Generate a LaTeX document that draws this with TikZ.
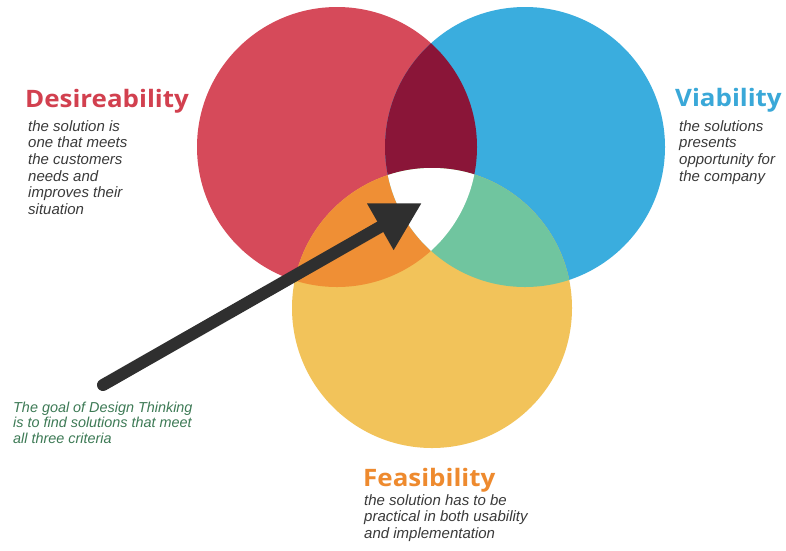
\documentclass[tikz,border=0pt]{standalone}
\usepackage{fontspec}
\setmainfont{Liberation Sans}
\newfontfamily\headfont[FakeStretch=1.08]{Open Sans}
\newfontfamily\descfont{Liberation Sans}
\usetikzlibrary{arrows.meta}
\definecolor{cred}{HTML}{D64A5A}
\definecolor{cblue}{HTML}{3AADDE}
\definecolor{cyellow}{HTML}{F2C35A}
\definecolor{cmaroon}{HTML}{8A1538}
\definecolor{corange}{HTML}{EF8F35}
\definecolor{cgreen}{HTML}{70C59F}
\definecolor{tred}{HTML}{D2404F}
\definecolor{tblue}{HTML}{3AA8D8}
\definecolor{torange}{HTML}{EE8A2E}
\definecolor{tgray}{HTML}{3A3A3A}
\definecolor{tgreen}{HTML}{3D7A55}
\definecolor{carrow}{HTML}{2F2F2F}
\tikzset{
  heading/.style={anchor=base west, inner sep=0pt, font=\headfont\bfseries\fontsize{24}{28}\selectfont},
  desc/.style={anchor=north west, inner sep=0pt, align=left, text=tgray, font=\descfont\itshape\fontsize{15}{16.7}\selectfont},
  goal/.style={anchor=north west, inner sep=0pt, align=left, text=tgreen, font=\descfont\itshape\fontsize{14.4}{15.5}\selectfont},
  pointer/.style={draw=carrow, line width=12pt, line cap=round, -{Triangle[length=48pt,width=50pt]}}
}
\begin{document}
\begin{tikzpicture}[x=1pt,y=-1pt]
\useasboundingbox[fill=white] (0,0) rectangle (786,550);
\def\rA{(337,147) circle[radius=140]}
\def\rB{(525,147) circle[radius=140]}
\def\rC{(432,308) circle[radius=140]}
\fill[cred] \rA;
\fill[cblue] \rB;
\fill[cyellow] \rC;
\begin{scope}\clip \rA; \fill[cmaroon] \rB; \end{scope}
\begin{scope}\clip \rA; \fill[corange] \rC; \end{scope}
\begin{scope}\clip \rB; \fill[cgreen] \rC; \end{scope}
\begin{scope}\clip \rA; \clip \rB; \fill[white] \rC; \end{scope}

\node[heading, text=tred] (desh) at (25,107) {Desireability};
\node[desc] (desd) at (28,120) {the solution is\\one that meets\\the customers\\needs and\\improves their\\situation};

\node[heading, text=tblue] (viah) at (675,106) {Viability};
\node[desc] (viad) at (679,120) {the solutions\\presents\\opportunity for\\the company};

\node[heading, text=torange] (feah) at (363,486) {Feasibility};
\node[desc] (fead) at (364,494) {the solution has to be\\practical in both usability\\and implementation};

\node[goal] (goal) at (13,401.5) {The goal of Design Thinking\\is to find solutions that meet\\all three criteria};

\coordinate (tail) at (103,385);
\coordinate (tip) at (422,203);
\draw[pointer] (tail) -- (tip);
\end{tikzpicture}
\end{document}
